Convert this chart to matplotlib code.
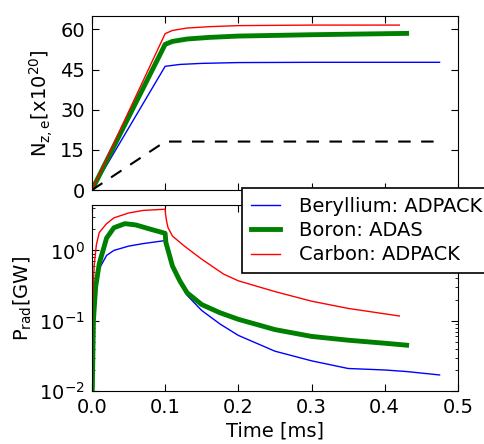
import matplotlib.pyplot as plt
import numpy as np

# top panel: impurity density N_z,e [x1e20]
t_be_n = [0, 0.1, 0.12, 0.15, 0.2, 0.3, 0.4, 0.475]
n_be = [0, 46.2, 46.9, 47.3, 47.6, 47.7, 47.7, 47.7]
t_b_n = [0, 0.1, 0.11, 0.13, 0.16, 0.2, 0.3, 0.43]
n_b = [0, 54.4, 55.5, 56.4, 57.0, 57.5, 58.0, 58.5]
t_c_n = [0, 0.1, 0.11, 0.13, 0.16, 0.2, 0.3, 0.42]
n_c = [0, 58.4, 59.6, 60.5, 61.0, 61.4, 61.6, 61.6]
t_e_n = [0, 0.1, 0.475]
n_e = [0, 18.1, 18.1]

# bottom panel: radiated power [GW]
t_be_p = [0, 0.002, 0.005, 0.01, 0.02, 0.03, 0.05, 0.07, 0.1,
          0.101, 0.11, 0.12, 0.13, 0.15, 0.175, 0.2, 0.25, 0.3, 0.35, 0.4, 0.43, 0.475]
p_be = [0.005, 0.12, 0.34, 0.55, 0.85, 1.0, 1.15, 1.25, 1.38,
        1.25, 0.62, 0.35, 0.23, 0.14, 0.09, 0.062, 0.037, 0.027, 0.021, 0.020, 0.019, 0.017]
t_b_p = [0, 0.002, 0.005, 0.01, 0.02, 0.03, 0.045, 0.06, 0.08, 0.1,
         0.101, 0.11, 0.12, 0.13, 0.15, 0.175, 0.2, 0.25, 0.3, 0.35, 0.4, 0.43]
p_b = [0.005, 0.1, 0.3, 0.65, 1.5, 2.1, 2.4, 2.3, 2.0, 1.75,
       1.3, 0.6, 0.37, 0.25, 0.17, 0.13, 0.105, 0.075, 0.06, 0.053, 0.048, 0.045]
t_c_p = [0, 0.001, 0.003, 0.006, 0.01, 0.02, 0.03, 0.05, 0.07, 0.1,
         0.1005, 0.102, 0.104, 0.11, 0.125, 0.15, 0.18, 0.2, 0.25, 0.3, 0.35, 0.42]
p_c = [0.02, 0.2, 0.6, 1.2, 1.8, 2.4, 2.9, 3.4, 3.7, 3.85,
       3.3, 2.6, 2.1, 1.6, 1.18, 0.75, 0.46, 0.37, 0.26, 0.19, 0.15, 0.117]

labels = ['Beryllium: ADPACK', 'Boron: ADAS', 'Carbon: ADPACK']

plt.rcParams['font.family'] = 'DejaVu Sans'
plt.rcParams['font.size'] = 14
plt.rcParams['xtick.direction'] = 'in'
plt.rcParams['ytick.direction'] = 'in'
plt.rcParams['xtick.top'] = True
plt.rcParams['ytick.right'] = True
plt.rcParams['xtick.major.size'] = 5
plt.rcParams['ytick.major.size'] = 5
plt.rcParams['ytick.minor.size'] = 2.5
plt.rcParams['xtick.major.pad'] = 5
plt.rcParams['ytick.major.pad'] = 5

fig = plt.figure(figsize=(4.84, 4.44), dpi=100)
ax1 = fig.add_axes([0.19, 0.572, 0.756, 0.392])
ax2 = fig.add_axes([0.19, 0.119, 0.756, 0.419])

ax1.plot(t_be_n, n_be, color='b', lw=1)
ax1.plot(t_b_n, n_b, color='g', lw=3.5)
ax1.plot(t_c_n, n_c, color='r', lw=1)
ax1.plot(t_e_n, n_e, 'k--', lw=1.5, dashes=(6, 5))
ax1.set_xlim(0, 0.5)
ax1.set_ylim(0, 65)
ax1.set_yticks([0, 15, 30, 45, 60])
ax1.set_xticks([0, 0.1, 0.2, 0.3, 0.4, 0.5])
ax1.set_xticklabels([])
ax1.set_ylabel(r'$\mathrm{N_{z,e}[x10^{20}]}$')

l1, = ax2.plot(t_be_p, p_be, color='b', lw=1)
l2, = ax2.plot(t_b_p, p_b, color='g', lw=3.5)
l3, = ax2.plot(t_c_p, p_c, color='r', lw=1)
ax2.set_yscale('log')
ax2.set_xlim(0, 0.5)
ax2.set_ylim(0.01, 4.4)
ax2.set_xticks([0, 0.1, 0.2, 0.3, 0.4, 0.5])
ax2.set_ylabel(r'$\mathrm{P_{rad}[GW]}$')
ax2.set_xlabel('Time [ms]', labelpad=3)

leg = fig.legend([l1, l2, l3], labels, loc='upper left', bbox_to_anchor=(0.5, 0.577),
                 fancybox=False, framealpha=1, edgecolor='k', fontsize=14,
                 handlelength=1.5, handletextpad=1.0, borderpad=0.45,
                 labelspacing=0.28, borderaxespad=0)
leg.get_frame().set_linewidth(1.2)

fig.savefig('out.png', dpi=100)
